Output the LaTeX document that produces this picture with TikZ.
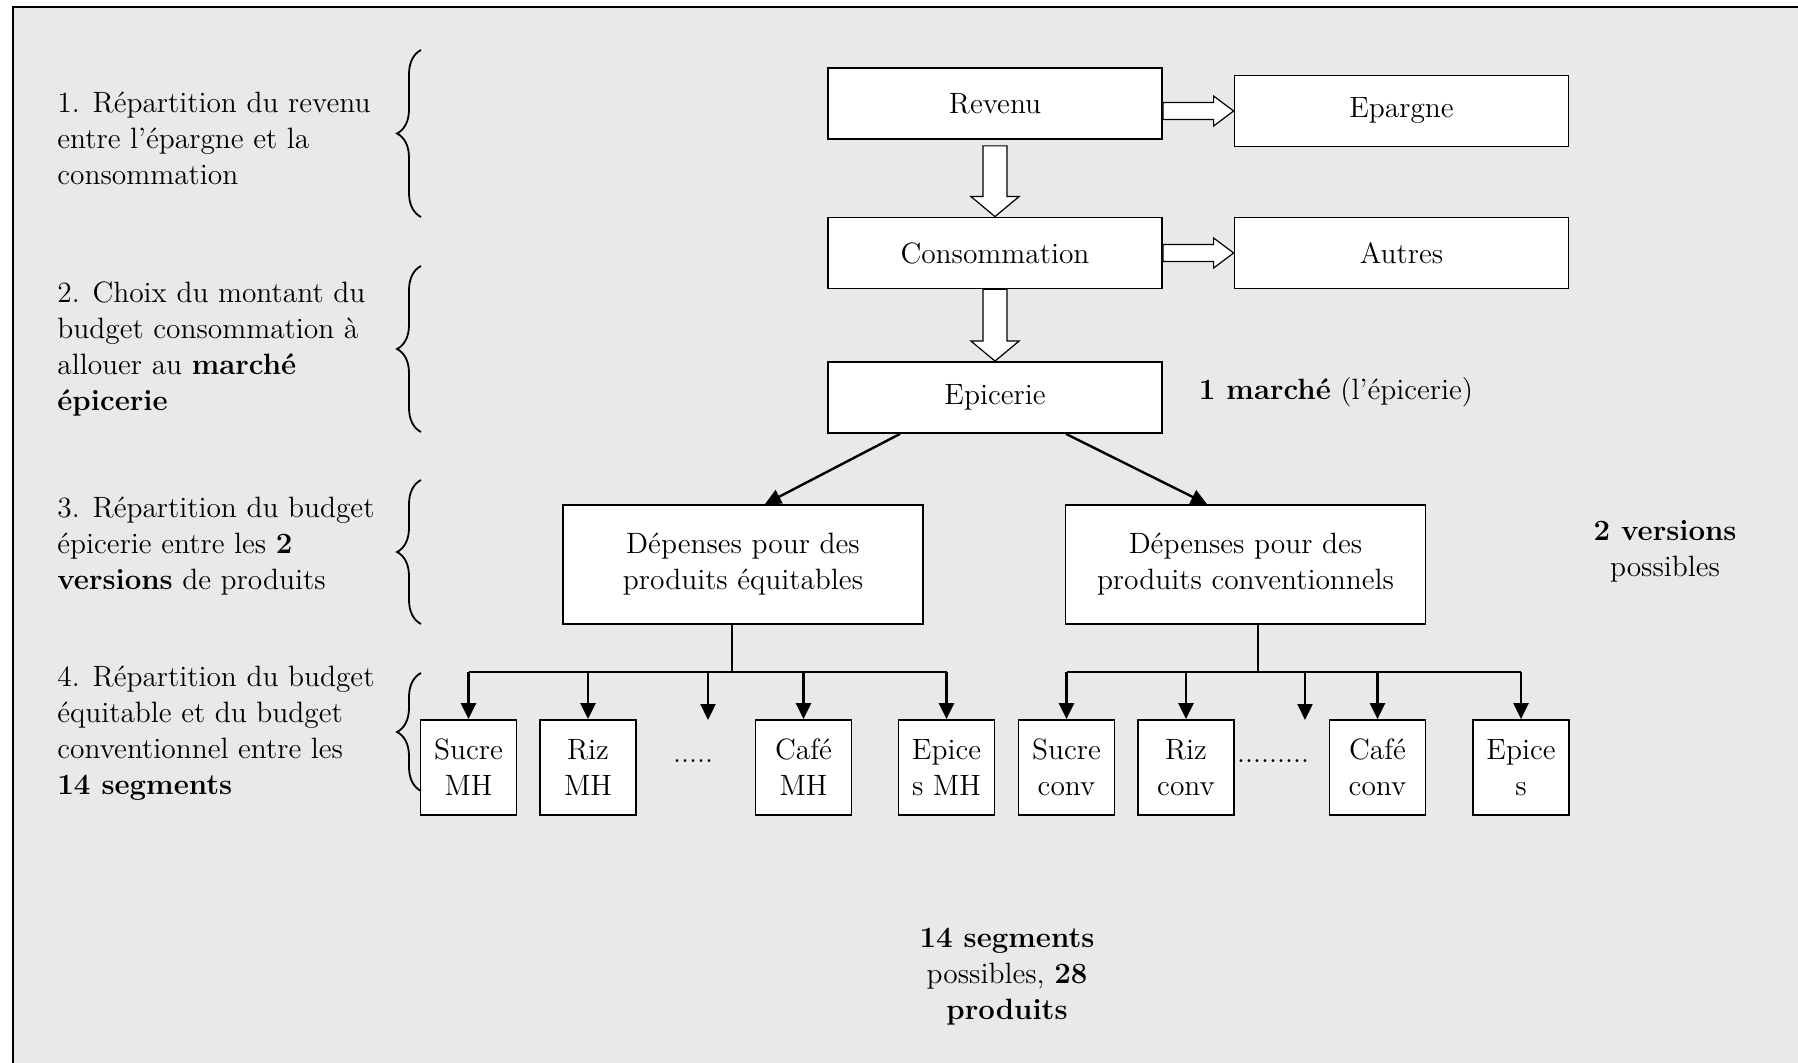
\documentclass[tikz,border=0pt]{standalone}
\usetikzlibrary{arrows.meta,calc,decorations.pathreplacing}
\definecolor{bggray}{RGB}{233,233,233}
\begin{document}
\begin{tikzpicture}[x=0.5pt,y=-0.5pt,
  every node/.style={font=\fontsize{14.7}{18}\selectfont},
  box/.style={draw=black,fill=white,line width=0.9pt,inner sep=0pt,align=center},
  wbox/.style={box,minimum width=167pt,minimum height=35.5pt},
  dbox/.style={box,minimum width=180pt,minimum height=59.5pt},
  sbox/.style={box,minimum width=48pt,minimum height=47.5pt},
  lbl/.style={inner sep=0pt,align=left,anchor=west},
  ctr/.style={inner sep=0pt,align=center},
  blk/.style={draw=black,fill=white,line width=0.6pt,line join=miter},
  treeline/.style={line width=1.2pt},
  tarrow/.style={line width=1.2pt,-{Triangle[length=8pt,width=7.5pt]}},
  brc/.style={line width=0.9pt,decorate,decoration={brace,amplitude=12pt}}
]
% frame and background
\useasboundingbox (0,0) rectangle (1798,1063);
\fill[white] (0,0) rectangle (1798,1063);
\fill[bggray] (13,7) rectangle (1798,1063);
\draw[line width=1.3pt] (13,1063) -- (13,7) -- (1798,7);

% main boxes
\node[wbox] (rev)  at (995,103.5)  {Revenu};
\node[wbox] (epa)  at (1401.5,111) {Epargne};
\node[wbox] (cons) at (995,253)    {Consommation};
\node[wbox] (aut)  at (1401.5,253) {Autres};
\node[wbox] (epi)  at (995,397.5)  {Epicerie};
\node[dbox] (deq)  at (743,564.5)  {Dépenses pour des\\produits équitables};
\node[dbox] (dcv)  at (1245.5,564.5) {Dépenses pour des\\produits conventionnels};

% segment boxes
\node[sbox] (s1) at (468.5,767.5)  {Sucre\\MH};
\node[sbox] (r1) at (588,767.5)    {Riz\\MH};
\node[sbox] (c1) at (803.5,767.5)  {Café\\MH};
\node[sbox] (e1) at (946.5,767.5)  {Epice\\s MH};
\node[sbox] (s2) at (1066.5,767.5) {Sucre\\conv};
\node[sbox] (r2) at (1186,767.5)   {Riz\\conv};
\node[sbox] (c2) at (1377.5,767.5) {Café\\conv};
\node[sbox] (e2) at (1521,767.5)   {Epice\\s};

\node[ctr] (ld) at (693,761)  {.....};
\node[ctr] (rd) at (1273,761) {.........};

% block arrows
\draw[blk] let \p1=(rev.east), \p2=(epa.west) in
  (\x1,\y2+4.25pt) -- (\x2-10pt,\y2+4.25pt) -- (\x2-10pt,\y2+7.5pt) -- (\x2,\y2)
  -- (\x2-10pt,\y2-7.5pt) -- (\x2-10pt,\y2-4.25pt) -- (\x1,\y2-4.25pt) -- cycle;
\draw[blk] let \p1=(cons.east), \p2=(aut.west) in
  (\x1,\y2+4.25pt) -- (\x2-10pt,\y2+4.25pt) -- (\x2-10pt,\y2+7.5pt) -- (\x2,\y2)
  -- (\x2-10pt,\y2-7.5pt) -- (\x2-10pt,\y2-4.25pt) -- (\x1,\y2-4.25pt) -- cycle;
\draw[blk] let \p1=(rev.south), \p2=(cons.north) in
  (\x1-6pt,\y1-3pt) -- (\x1-6pt,\y2+10pt) -- (\x1-12pt,\y2+10pt) -- (\x1,\y2)
  -- (\x1+12pt,\y2+10pt) -- (\x1+6pt,\y2+10pt) -- (\x1+6pt,\y1-3pt) -- cycle;
\draw[blk] let \p1=(cons.south), \p2=(epi.north) in
  (\x1-6pt,\y1) -- (\x1-6pt,\y2+10pt) -- (\x1-12pt,\y2+10pt) -- (\x1,\y2)
  -- (\x1+12pt,\y2+10pt) -- (\x1+6pt,\y2+10pt) -- (\x1+6pt,\y1) -- cycle;

% diagonal arrows
\draw[tarrow] ($(epi.south)+(-95,0)$) -- ($(deq.north)+(22,0)$);
\draw[tarrow] ($(epi.south)+(71,0)$) -- ($(dcv.north)+(-38.5,0)$);

% tree to segments
\coordinate (lstem) at (732,672);
\coordinate (rstem) at (1258,672);
\coordinate (lmid) at (708,720);
\coordinate (rmid) at (1305,720);
\draw[treeline] (deq.south -| lstem) -- (lstem);
\draw[treeline] (dcv.south -| rstem) -- (rstem);
\draw[treeline] (s1.north |- lstem) -- (e1.north |- lstem);
\draw[treeline] (s2.north |- rstem) -- (e2.north |- rstem);
\foreach \n in {s1,r1,c1,e1}{\draw[tarrow] (\n.north |- lstem) -- (\n.north);}
\foreach \n in {s2,r2,c2,e2}{\draw[tarrow] (\n.north |- rstem) -- (\n.north);}
\draw[tarrow] (lmid |- lstem) -- (lmid);
\draw[tarrow] (rmid |- rstem) -- (rmid);

% braces
\draw[brc] (421,217) -- (421,50);
\draw[brc] (421,432) -- (421,266);
\draw[brc] (421,624) -- (421,480);
\draw[brc] (421,791) -- (421,673);

% left texts
\node[lbl] (t1) at (57,138) {1. Répartition du revenu\\entre l’épargne et la\\consommation};
\node[lbl] (t2) at (57,349) {2. Choix du montant du\\budget consommation à\\allouer au \textbf{marché}\\\textbf{épicerie}};
\node[lbl] (t3) at (57,546) {3. Répartition du budget\\épicerie entre les \textbf{2}\\\textbf{versions} de produits};
\node[lbl] (t4) at (57,733) {4. Répartition du budget\\équitable et du budget\\conventionnel entre les\\\textbf{14 segments}};

% right and bottom texts
\node[ctr] (m1) at (1336,392) {\textbf{1 marché} (l’épicerie)};
\node[ctr] (v2) at (1665,551) {\textbf{2 versions}\\possibles};
\node[ctr] (s14) at (1007,977) {\textbf{14 segments}\\possibles, \textbf{28}\\\textbf{produits}};
\end{tikzpicture}
\end{document}
